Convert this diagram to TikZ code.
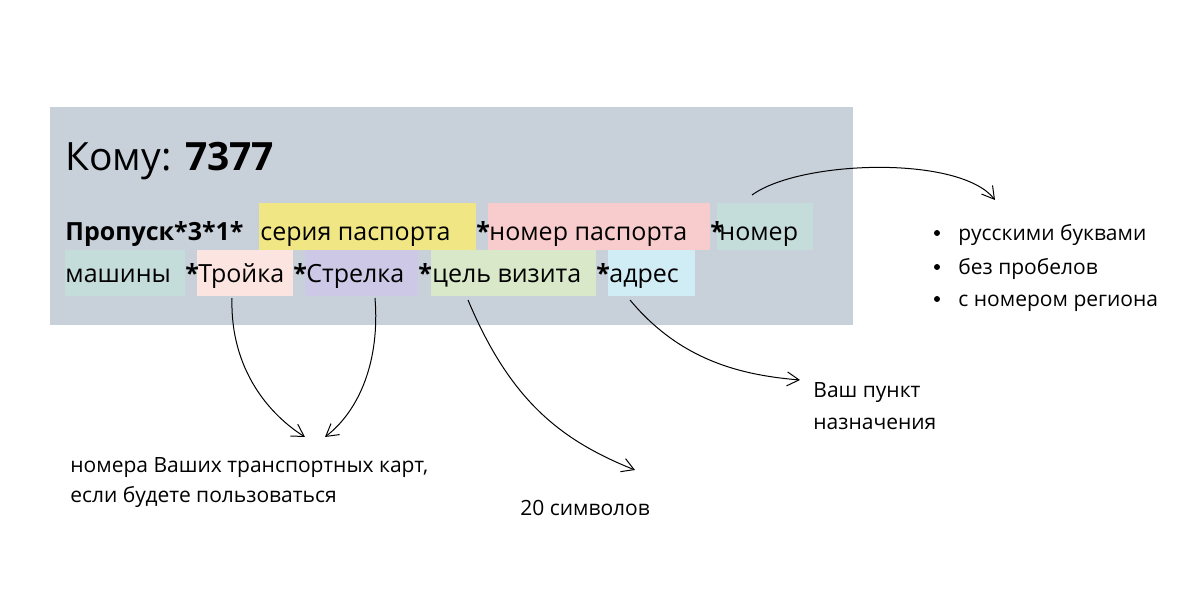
\documentclass[tikz,border=0pt]{standalone}
\usepackage{fontspec}
\setmainfont{Open Sans}
\usetikzlibrary{arrows.meta}
\definecolor{bg}{HTML}{C8D0DA}
\definecolor{cy}{HTML}{F0E784}
\definecolor{cp}{HTML}{F8CCCC}
\definecolor{ct}{HTML}{C4DCDA}
\definecolor{clp}{HTML}{FCE4E0}
\definecolor{cl}{HTML}{CCC8E6}
\definecolor{cg}{HTML}{D8E8C8}
\definecolor{cc}{HTML}{D0ECF4}
\begin{document}
\begin{tikzpicture}[x=0.5pt,y=-0.5pt,
  t/.style={anchor=base west,inner sep=0pt,font=\fontsize{12.5}{15}\selectfont},
  s/.style={anchor=base west,inner sep=0pt,font=\fontsize{10.5}{13}\selectfont},
  arr/.style={-{Straight Barb[length=6pt,width=7pt]},line width=0.5pt}]
\useasboundingbox (0,0) rectangle (1200,600);
\fill[bg] (50,107) rectangle (853,325);
\node[anchor=base west,inner sep=0pt,font=\fontsize{19.5}{22}\selectfont] (title) at (65,170) {Кому: \textbf{7377}};
% highlights
\fill[cy] (259,203) rectangle (476,250);
\fill[cp] (488,203) rectangle (710,250);
\fill[ct] (717,203) rectangle (813,250);
\fill[ct] (65,250) rectangle (185,296);
\fill[clp] (197,250) rectangle (293,296);
\fill[cl] (305,250) rectangle (418,296);
\fill[cg] (431,250) rectangle (596,296);
\fill[cc] (608,250) rectangle (695,296);
% line 1
\node[t] (p1) at (65,240) {\textbf{Пропуск*3*1*}};
\node[t] (p2) at (260,240) {серия паспорта};
\node[t] at (476,240) {\textbf{*}};
\node[t] (p3) at (489,240) {номер паспорта};
\node[t] at (710,240) {\textbf{*}};
\node[t] (p4) at (719,240) {номер};
% line 2
\node[t] (q1) at (65,282) {машины};
\node[t] at (185,282) {\textbf{*}};
\node[t] (q2) at (198,282) {Тройка};
\node[t] at (293,282) {\textbf{*}};
\node[t] (q3) at (306,282) {Стрелка};
\node[t] at (418,282) {\textbf{*}};
\node[t] (q4) at (432,282) {цель визита};
\node[t] at (596,282) {\textbf{*}};
\node[t] (q5) at (609,282) {адрес};
% labels
\node[s] (l1) at (70,472) {номера Ваших транспортных карт,};
\node[s] (l1b) at (70,502) {если будете пользоваться};
\node[s] (l2) at (520,515) {20 символов};
\node[s] (l3) at (813,397) {Ваш пункт};
\node[s] (l3b) at (813,429) {назначения};
\foreach \y/\tx in {233/русскими буквами,267/без пробелов,299/с номером региона}{
  \fill (937,\y) circle (3);
  \node[s] at (958,\y+7) {\tx};
}
% arrows
\coordinate (a1) at (232,298); \coordinate (e1) at (305,437);
\coordinate (a2) at (375,298); \coordinate (e2) at (325,437);
\coordinate (a3) at (468,300); \coordinate (e3) at (635,470);
\coordinate (a4) at (630,300); \coordinate (e4) at (800,380);
\coordinate (a5) at (752,195); \coordinate (e5) at (995,200);
\draw[arr] (a1) .. controls (230,370) and (270,415) .. (e1);
\draw[arr] (a2) .. controls (380,360) and (360,410) .. (e2);
\draw[arr] (a3) .. controls (510,400) and (560,440) .. (e3);
\draw[arr] (a4) .. controls (680,360) and (740,375) .. (e4);
\draw[arr] (a5) .. controls (800,160) and (960,155) .. (e5);
\end{tikzpicture}
\end{document}
